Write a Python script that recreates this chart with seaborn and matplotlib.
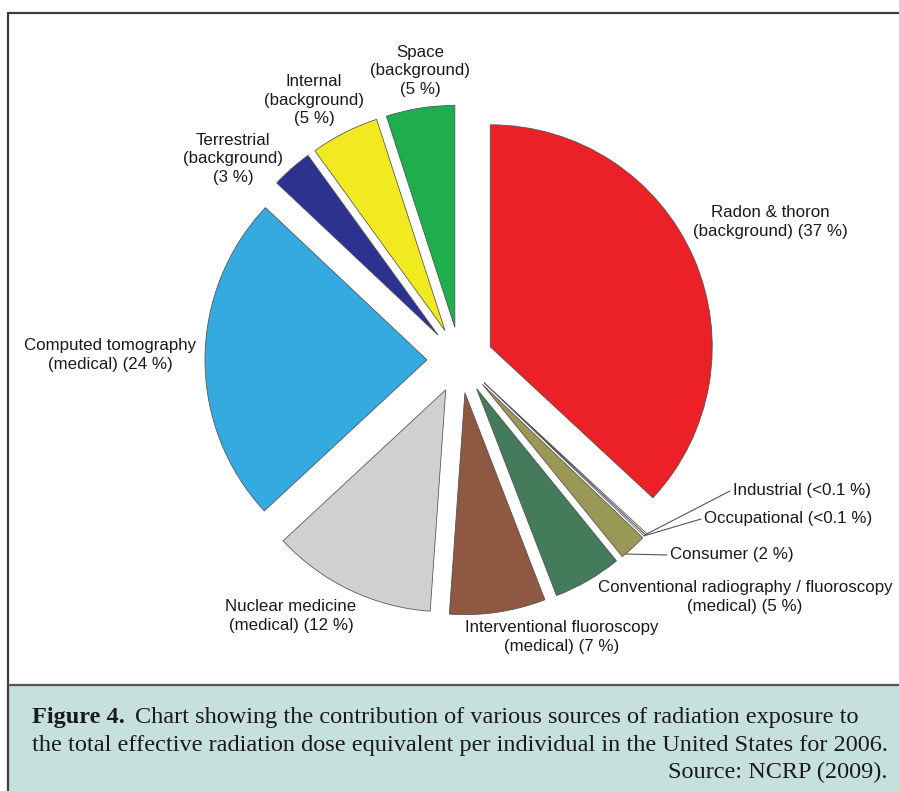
import matplotlib
matplotlib.use('Agg')
import matplotlib.pyplot as plt
import seaborn as sns
import numpy as np

# data, clockwise from 12 o'clock
sources = ['Radon & thoron', 'Industrial', 'Occupational', 'Consumer',
           'Conventional radiography / fluoroscopy', 'Interventional fluoroscopy',
           'Nuclear medicine', 'Computed tomography', 'Terrestrial', 'Internal', 'Space']
shares = [37, 0.12, 0.12, 2, 5, 7, 12, 24, 3, 5, 5]
share_text = ['37 %', '<0.1 %', '<0.1 %', '2 %', '5 %', '7 %', '12 %', '24 %', '3 %', '5 %', '5 %']
colors = ['#EC2027', '#FFFFFF', '#FFFFFF', '#9B9757', '#437B5B', '#8F5843',
          '#CFD0D2', '#35AAE0', '#2D3190', '#F1EA21', '#1EAE4D']

sns.set_theme(style='white')
plt.rcParams['font.family'] = ['Liberation Sans', 'DejaVu Sans']

W, H = 899, 791
fig = plt.figure(figsize=(W / 100, H / 100), dpi=100)
ax = fig.add_axes([0, 0, 1, 1])

# y axis runs downward (pixel-like), so start at -90 and go "counterclock" = visually clockwise
# explode is in data units here (same as radius)
wedges, _ = ax.pie(shares, colors=colors, explode=[33] * len(shares),
                   startangle=-90, counterclock=True, center=(460, 360), radius=222,
                   wedgeprops=dict(edgecolor='#505050', linewidth=0.55))
ax.set_xlim(0, W)
ax.set_ylim(H, 0)
ax.set_aspect('equal')
ax.axis('off')

lab_kw = dict(fontsize=12.2, color='#1a1a1a', linespacing=1.3)

# wedge labels: (text, x, y, ha)
labels = [
    (f'Radon & thoron\n(background) ({share_text[0]})', 770, 222, 'center'),
    (f'Space\n(background)\n({share_text[10]})', 420, 71, 'center'),
    (f'Internal\n(background)\n({share_text[9]})', 314, 100, 'center'),
    (f'Terrestrial\n(background)\n({share_text[8]})', 233, 159, 'center'),
    (f'Computed tomography\n(medical) ({share_text[7]})', 110, 355, 'center'),
    (f'Nuclear medicine\n(medical) ({share_text[6]})', 291, 616, 'center'),
    (f'Interventional fluoroscopy\n(medical) ({share_text[5]})', 562, 637, 'center'),
    (f'Conventional radiography / fluoroscopy\n(medical) ({share_text[4]})', 745, 597, 'center'),
]
for txt, x, y, ha in labels:
    ax.text(x, y, txt, ha=ha, va='center', **lab_kw)

# small slices with leader lines
leaders = [(1, 'Industrial', 733, 491, 0.5), (2, 'Occupational', 704, 519, 0.5),
           (3, 'Consumer', 670, 555, 0.85)]
for i, name, tx, ty, f in leaders:
    w = wedges[i]
    ang = np.deg2rad(w.theta1 + f * (w.theta2 - w.theta1))
    px = w.center[0] + w.r * np.cos(ang)
    py = w.center[1] + w.r * np.sin(ang)
    ax.plot([px, tx - 3], [py, ty], color='#555555', lw=0.8)
    ax.text(tx, ty, f'{name} ({share_text[i]})', ha='left', va='center', **lab_kw)

# frame and caption panel
ax.add_patch(plt.Rectangle((9, 686), W - 9, H - 686, facecolor='#C6E1DD', edgecolor='none'))
ax.plot([8, W], [13, 13], color='#3c3c3c', lw=1.6)
ax.plot([8, 8], [13, H], color='#3c3c3c', lw=1.6)
ax.plot([8, W], [685, 685], color='#555555', lw=1.6)

cap_kw = dict(family=['Liberation Serif', 'DejaVu Serif'], fontsize=17.5, color='#1a1a1a', va='center')
t1 = ax.text(32, 717, 'Figure 4.', fontweight='bold', **cap_kw)
fig.canvas.draw()
bb = t1.get_window_extent().transformed(ax.transData.inverted())
ax.text(bb.x1 + 10, 717,
        'Chart showing the contribution of various sources of radiation exposure to', **cap_kw)
ax.text(32, 745, 'the total effective radiation dose equivalent per individual in the United States for 2006.',
        **cap_kw)
ax.text(887, 772, 'Source: NCRP (2009).', ha='right', **cap_kw)

fig.savefig('out.png', dpi=100)
